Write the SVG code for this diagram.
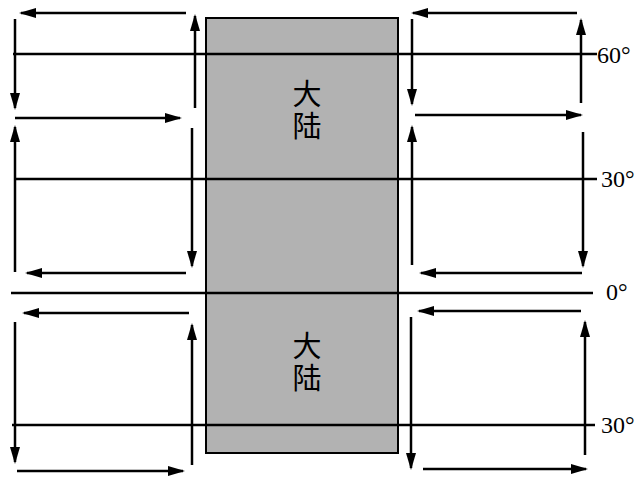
<svg xmlns="http://www.w3.org/2000/svg" width="640" height="478" viewBox="0 0 640 478">
<style>
.ln{stroke:#000;stroke-width:2.5;fill:none}
.ar{stroke:#000;stroke-width:2.5;fill:none;marker-end:url(#ah)}
.lat{font-family:"Liberation Serif","Times New Roman",serif;font-size:24px;fill:#000}
.cn{font-family:"Noto Sans CJK SC","Noto Sans CJK JP",sans-serif;font-size:29px;fill:#000;writing-mode:vertical-rl;letter-spacing:3px}
</style>
<defs>
<marker id="ah" markerUnits="userSpaceOnUse" markerWidth="18" markerHeight="12" refX="15" refY="5" orient="auto">
<path d="M0,0 L17,5 L0,10 z" fill="#000"/>
</marker>
</defs>
<rect width="640" height="478" fill="#fff"/>
<g id="continent">
<rect x="206" y="18" width="192" height="435" fill="#b2b2b2" stroke="#000" stroke-width="2"/>
<text class="cn" x="307" y="79">大陆</text>
<text class="cn" x="307" y="331">大陆</text>
</g>
<g id="latitudes">
<line class="ln" x1="13" y1="54" x2="597" y2="54"/>
<line class="ln" x1="16" y1="179" x2="597" y2="179"/>
<line class="ln" x1="11" y1="293" x2="593" y2="293"/>
<line class="ln" x1="12" y1="425" x2="595" y2="425"/>
<text class="lat" x="597" y="63">60°</text>
<text class="lat" x="601" y="187">30°</text>
<text class="lat" x="606" y="300">0°</text>
<text class="lat" x="601" y="433">30°</text>
</g>
<g id="connectors">
<line class="ar" x1="186" y1="13" x2="21" y2="13"/>
<line class="ar" x1="15" y1="19" x2="15" y2="108"/>
<line class="ar" x1="15" y1="118" x2="180" y2="118"/>
<line class="ar" x1="195" y1="108" x2="195" y2="16"/>
<line class="ar" x1="15" y1="272" x2="15" y2="127"/>
<line class="ar" x1="192" y1="128" x2="192" y2="266"/>
<line class="ar" x1="186" y1="273" x2="27" y2="273"/>
<line class="ar" x1="189" y1="313" x2="24" y2="313"/>
<line class="ar" x1="15" y1="322" x2="15" y2="462"/>
<line class="ar" x1="192" y1="465" x2="192" y2="325"/>
<line class="ar" x1="17" y1="471" x2="183" y2="471"/>
<line class="ar" x1="577" y1="13" x2="413" y2="13"/>
<line class="ar" x1="412" y1="19" x2="412" y2="104"/>
<line class="ar" x1="415" y1="115" x2="581" y2="115"/>
<line class="ar" x1="581" y1="103" x2="581" y2="20"/>
<line class="ar" x1="412" y1="265" x2="412" y2="127"/>
<line class="ar" x1="583" y1="132" x2="583" y2="266"/>
<line class="ar" x1="582" y1="273" x2="421" y2="273"/>
<line class="ar" x1="581" y1="311" x2="419" y2="311"/>
<line class="ar" x1="411" y1="317" x2="411" y2="468"/>
<line class="ar" x1="585" y1="455" x2="585" y2="322"/>
<line class="ar" x1="423" y1="469" x2="586" y2="469"/>
</g>
</svg>
